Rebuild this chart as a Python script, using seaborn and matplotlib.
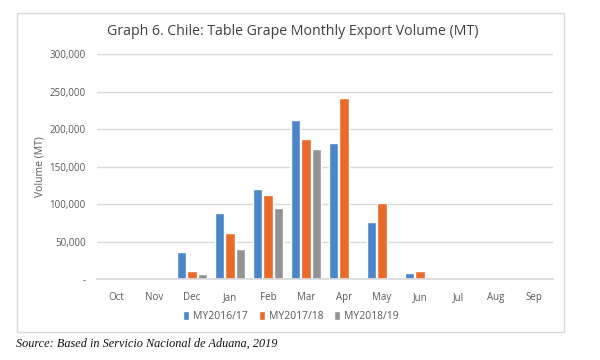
import matplotlib
matplotlib.use("Agg")
import matplotlib.pyplot as plt
import seaborn as sns
import pandas as pd
from matplotlib.patches import Rectangle
from matplotlib.ticker import FuncFormatter

months = ["Oct", "Nov", "Dec", "Jan", "Feb", "Mar", "Apr", "May", "Jun", "Jul", "Aug", "Sep"]
seasons = ["MY2016/17", "MY2017/18", "MY2018/19"]
my2016_17 = [0, 1000, 37000, 88000, 120500, 213000, 182000, 77000, 8000, 500, 500, 0]
my2017_18 = [0, 1000, 11000, 62000, 113000, 186500, 241500, 101500, 10500, 2000, 500, 0]
my2018_19 = [0, 0, 6500, 40500, 94500, 174000, 0, 0, 0, 0, 0, 0]
yticks = [0, 50000, 100000, 150000, 200000, 250000, 300000]
colors = ["#4a86c8", "#ea6a2a", "#939393"]

df = pd.DataFrame({
    "month": months * 3,
    "season": [seasons[0]] * 12 + [seasons[1]] * 12 + [seasons[2]] * 12,
    "volume": my2016_17 + my2017_18 + my2018_19,
})

sns.set_theme(style="white")
plt.rcParams["font.family"] = ["Open Sans", "DejaVu Sans"]

fig = plt.figure(figsize=(6, 3.6), dpi=100)
ax = fig.add_axes([97 / 600, 1 - 279.3 / 360, (553 - 97) / 600, (279.3 - 54.3) / 360])

sns.barplot(data=df, x="month", y="volume", hue="season", order=months,
            hue_order=seasons, palette=colors, width=0.84, gap=0.1,
            saturation=1, ax=ax)

ax.set_ylim(0, 300000)
ax.set_yticks(yticks)
ax.yaxis.set_major_formatter(FuncFormatter(lambda v, p: "-" if v == 0 else f"{int(v):,}"))
ax.grid(axis="y", color="#d9d9d9", linewidth=1)
ax.set_axisbelow(True)
for s in ["top", "right", "left"]:
    ax.spines[s].set_visible(False)
ax.spines["bottom"].set_color("#d9d9d9")
ax.tick_params(axis="both", length=0, labelsize=7, colors="#595959")
ax.tick_params(axis="x", pad=9)
ax.tick_params(axis="y", pad=8)
ax.set_xlabel("")
ax.set_ylabel("Volume (MT)", fontsize=7.5, color="#595959", labelpad=3)

handles, labels = ax.get_legend_handles_labels()
ax.get_legend().remove()
fig.legend(handles, labels, loc="center", bbox_to_anchor=(291 / 600, 1 - 316.7 / 360),
           ncol=3, frameon=False, fontsize=7.5, labelcolor="#595959",
           handlelength=0.6, handleheight=0.9, handletextpad=0.4, columnspacing=1.0)

fig.text(292.5 / 600, 1 - 31.7 / 360, "Graph 6. Chile: Table Grape Monthly Export Volume (MT)",
         ha="center", va="center", fontsize=10.2, color="#404040")

fig.patches.append(Rectangle((17.3 / 600, 1 - 331.7 / 360), (564.3 - 17.3) / 600,
                             (331.7 - 12.7) / 360, transform=fig.transFigure,
                             fill=False, edgecolor="#d9d9d9", linewidth=1))

fig.text(16 / 600, 1 - 344 / 360, "Source: Based in Servicio Nacional de Aduana, 2019",
         ha="left", va="center", fontsize=8.8, style="italic",
         family=["Liberation Serif", "DejaVu Serif"], color="#111111")

fig.savefig("out.png", dpi=100)
